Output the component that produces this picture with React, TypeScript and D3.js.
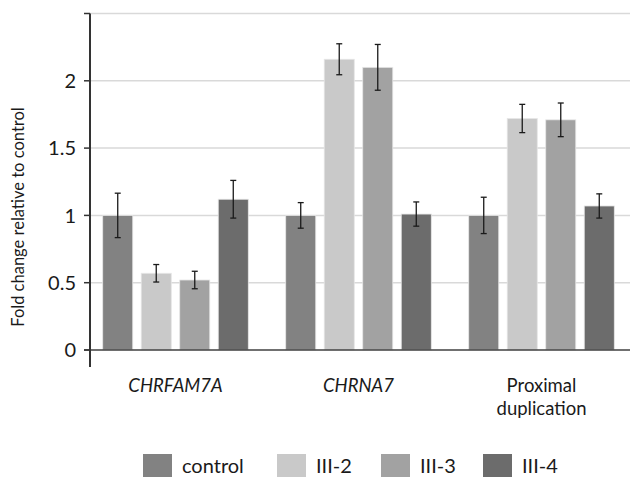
import { useEffect, useRef } from "react";
import * as d3 from "d3";

const categories = ["CHRFAM7A", "CHRNA7", "Proximal duplication"];
const series = ["control", "III-2", "III-3", "III-4"];
// values[category][series]
const values = [
  [1.0, 0.57, 0.52, 1.12],
  [1.0, 2.16, 2.1, 1.01],
  [1.0, 1.72, 1.71, 1.07],
];
const errors = [
  [0.165, 0.065, 0.065, 0.14],
  [0.095, 0.115, 0.17, 0.09],
  [0.135, 0.105, 0.125, 0.09],
];
const yTicks = [0, 0.5, 1, 1.5, 2, 2.5];
const colors = ["#828282", "#c9c9c9", "#a2a2a2", "#6c6c6c"];

export default function App() {
  const svgRef = useRef<SVGSVGElement>(null);

  useEffect(() => {
    const svg = d3.select(svgRef.current);
    svg.selectAll("*").remove();

    const width = 630;
    const height = 479;
    const font = "Lato, 'Open Sans', sans-serif";
    const axisX = 90;

    // Y scale
    const y = d3.scaleLinear().domain([0, 2.5]).range([350, 13.5]);

    // X scales: groups then bars inside each group
    const x0 = d3.scaleBand().domain(categories).range([84, 633]);
    const x1 = d3
      .scaleBand()
      .domain(series)
      .range([0, x0.bandwidth()])
      .paddingInner(0.22)
      .paddingOuter(0.486);

    // Grid lines
    svg
      .append("g")
      .selectAll("line")
      .data(yTicks.filter((d) => d > 0))
      .enter()
      .append("line")
      .attr("x1", axisX)
      .attr("x2", width)
      .attr("y1", (d) => y(d))
      .attr("y2", (d) => y(d))
      .attr("stroke", "#d9d9d9")
      .attr("stroke-width", 1.5);

    // Bars
    const groups = svg
      .append("g")
      .selectAll("g")
      .data(categories)
      .enter()
      .append("g")
      .attr("transform", (d) => `translate(${x0(d)},0)`);

    groups
      .selectAll("rect")
      .data((_, i) => series.map((s, j) => ({ s, j, v: values[i][j], e: errors[i][j] })))
      .enter()
      .append("rect")
      .attr("x", (d) => x1(d.s)!)
      .attr("width", x1.bandwidth())
      .attr("y", (d) => y(d.v))
      .attr("height", (d) => y(0) - y(d.v))
      .attr("fill", (d) => colors[d.j])
      .attr("stroke", "#e6e6e6")
      .attr("stroke-width", 0.8);

    // Error bars
    const err = groups
      .selectAll("g.err")
      .data((_, i) => series.map((s, j) => ({ s, j, v: values[i][j], e: errors[i][j] })))
      .enter()
      .append("g")
      .attr("class", "err")
      .attr("transform", (d) => `translate(${x1(d.s)! + x1.bandwidth() / 2},0)`);

    err
      .append("line")
      .attr("y1", (d) => y(d.v + d.e))
      .attr("y2", (d) => y(d.v - d.e))
      .attr("stroke", "#1a1a1a")
      .attr("stroke-width", 1.3);
    err
      .append("line")
      .attr("x1", -3)
      .attr("x2", 3)
      .attr("y1", (d) => y(d.v + d.e))
      .attr("y2", (d) => y(d.v + d.e))
      .attr("stroke", "#1a1a1a")
      .attr("stroke-width", 1.3);
    err
      .append("line")
      .attr("x1", -3)
      .attr("x2", 3)
      .attr("y1", (d) => y(d.v - d.e))
      .attr("y2", (d) => y(d.v - d.e))
      .attr("stroke", "#1a1a1a")
      .attr("stroke-width", 1.3);

    // X axis line
    svg
      .append("line")
      .attr("x1", 84)
      .attr("x2", width)
      .attr("y1", y(0))
      .attr("y2", y(0))
      .attr("stroke", "#404040")
      .attr("stroke-width", 1.5);

    // Y axis
    svg
      .append("line")
      .attr("x1", axisX)
      .attr("x2", axisX)
      .attr("y1", y(2.5))
      .attr("y2", 367)
      .attr("stroke", "#333")
      .attr("stroke-width", 2);

    const yAxis = svg.append("g");
    yAxis
      .selectAll("line")
      .data(yTicks)
      .enter()
      .append("line")
      .attr("x1", 84)
      .attr("x2", axisX)
      .attr("y1", (d) => y(d))
      .attr("y2", (d) => y(d))
      .attr("stroke", "#333")
      .attr("stroke-width", 1.5);
    yAxis
      .selectAll("text")
      .data(yTicks.filter((d) => d < 2.5))
      .enter()
      .append("text")
      .attr("x", 76)
      .attr("y", (d) => y(d))
      .attr("dy", "0.36em")
      .attr("text-anchor", "end")
      .attr("font-family", font)
      .attr("font-size", 20)
      .attr("fill", "#1a1a1a")
      .text((d) => String(d));

    // Y axis title
    svg
      .append("text")
      .attr("transform", `translate(24,217) rotate(-90)`)
      .attr("text-anchor", "middle")
      .attr("font-family", font)
      .attr("font-size", 16.5)
      .attr("fill", "#1a1a1a")
      .text("Fold change relative to control");

    // Category labels
    const catLabels = svg.append("g");
    categories.forEach((c, i) => {
      const cx = x0(c)! + x0.bandwidth() / 2;
      const italic = i < 2;
      const lines = italic ? [c] : c.split(" ");
      lines.forEach((ln, k) => {
        catLabels
          .append("text")
          .attr("x", cx)
          .attr("y", 392 + k * 23)
          .attr("text-anchor", "middle")
          .attr("font-family", font)
          .attr("font-size", 18.5)
          .attr("font-style", italic ? "italic" : "normal")
          .attr("fill", "#1a1a1a")
          .text(ln);
      });
    });

    // Legend
    const legendX = [143, 277, 381, 483];
    const legend = svg
      .append("g")
      .selectAll("g")
      .data(series)
      .enter()
      .append("g")
      .attr("transform", (_, i) => `translate(${legendX[i]},454)`);
    legend
      .append("rect")
      .attr("width", 29)
      .attr("height", 23)
      .attr("fill", (_, i) => colors[i]);
    legend
      .append("text")
      .attr("x", 39)
      .attr("y", 19)
      .attr("font-family", font)
      .attr("font-size", 20)
      .attr("fill", "#1a1a1a")
      .text((d) => d);

    svg.attr("width", width).attr("height", height);
  }, []);

  return (
    <svg
      ref={svgRef}
      style={{ position: "absolute", left: 0, top: 0, background: "#fff" }}
    />
  );
}
